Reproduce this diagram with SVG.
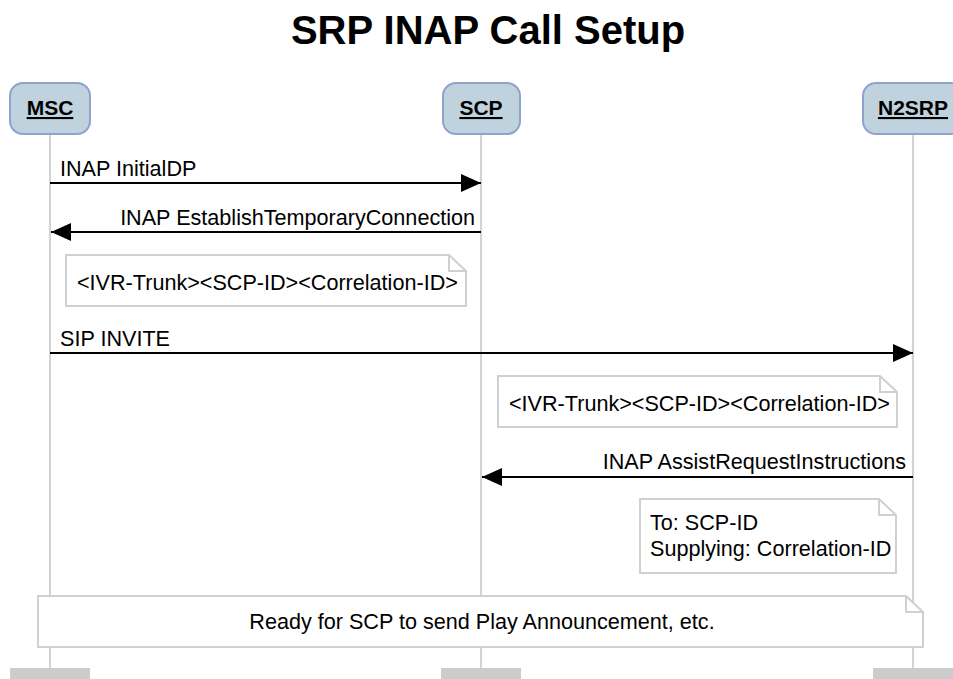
<svg xmlns="http://www.w3.org/2000/svg" width="953" height="679" viewBox="0 0 953 679">
<defs>
<style>
text{font-family:"Liberation Sans",Arial,sans-serif;fill:#000}
.title{font-size:40px;font-weight:bold}
.lbl{font-size:21.6px}
.pname{font-size:21px;font-weight:bold;text-decoration:underline}
.pbox{fill:#c0d2de;stroke:#8fa2cc;stroke-width:2}
.life{stroke:#d3d3d3;stroke-width:2}
.foot{fill:#cccccc}
.msg{stroke:#000;stroke-width:2;fill:none}
.note{fill:#fff;stroke:#d0d0d0;stroke-width:2}
.fold{fill:none;stroke:#d0d0d0;stroke-width:2}
</style>
<marker id="ah" viewBox="0 0 20 18" refX="20" refY="9" markerWidth="20" markerHeight="18" markerUnits="userSpaceOnUse" orient="auto">
<path d="M0,0 L20,9 L0,18 Z" fill="#000"/>
</marker>
</defs>
<rect width="953" height="679" fill="#fff"/>
<text class="title" x="488" y="44" text-anchor="middle">SRP INAP Call Setup</text>
<g id="lifelines">
<line class="life" x1="50" y1="134" x2="50" y2="668"/>
<line class="life" x1="481" y1="134" x2="481" y2="668"/>
<line class="life" x1="913" y1="134" x2="913" y2="668"/>
</g>
<g id="MSC">
<rect class="pbox" x="10" y="83" width="80" height="51" rx="13"/>
<text class="pname" x="50" y="115" text-anchor="middle">MSC</text>
<rect class="foot" x="10" y="668" width="80" height="11"/>
</g>
<g id="SCP">
<rect class="pbox" x="443" y="83" width="77" height="51" rx="13"/>
<text class="pname" x="481" y="115" text-anchor="middle">SCP</text>
<rect class="foot" x="441" y="668" width="80" height="11"/>
</g>
<g id="N2SRP">
<rect class="pbox" x="863" y="83" width="100" height="51" rx="13"/>
<text class="pname" x="913" y="115" text-anchor="middle">N2SRP</text>
<rect class="foot" x="873" y="668" width="80" height="11"/>
</g>
<g id="connectors">
<line class="msg" x1="50" y1="183" x2="481" y2="183" marker-end="url(#ah)"/>
<line class="msg" x1="481" y1="232" x2="51" y2="232" marker-end="url(#ah)"/>
<line class="msg" x1="50" y1="353" x2="913" y2="353" marker-end="url(#ah)"/>
<line class="msg" x1="913" y1="477" x2="482" y2="477" marker-end="url(#ah)"/>
</g>
<g id="labels">
<text class="lbl" x="60" y="176">INAP InitialDP</text>
<text class="lbl" x="475" y="225" text-anchor="end">INAP EstablishTemporaryConnection</text>
<text class="lbl" x="60" y="346">SIP INVITE</text>
<text class="lbl" x="906" y="469" text-anchor="end">INAP AssistRequestInstructions</text>
</g>
<g id="note1">
<path class="note" d="M66,255 H449 L466,271 V306 H66 Z"/>
<path class="fold" d="M449,255 V271 H466"/>
<text class="lbl" x="77" y="290">&lt;IVR-Trunk&gt;&lt;SCP-ID&gt;&lt;Correlation-ID&gt;</text>
</g>
<g id="note2">
<path class="note" d="M498,376 H880 L897,392 V427 H498 Z"/>
<path class="fold" d="M880,376 V392 H897"/>
<text class="lbl" x="509" y="411">&lt;IVR-Trunk&gt;&lt;SCP-ID&gt;&lt;Correlation-ID&gt;</text>
</g>
<g id="note3">
<path class="note" d="M640,499 H879 L896,515 V573 H640 Z"/>
<path class="fold" d="M879,499 V515 H896"/>
<text class="lbl" x="650" y="530">To: SCP-ID</text>
<text class="lbl" x="650" y="556">Supplying: Correlation-ID</text>
</g>
<g id="note4">
<path class="note" d="M38,596 H906 L923,612 V647 H38 Z"/>
<path class="fold" d="M906,596 V612 H923"/>
<text class="lbl" x="482" y="629" text-anchor="middle">Ready for SCP to send Play Announcement, etc.</text>
</g>
</svg>
